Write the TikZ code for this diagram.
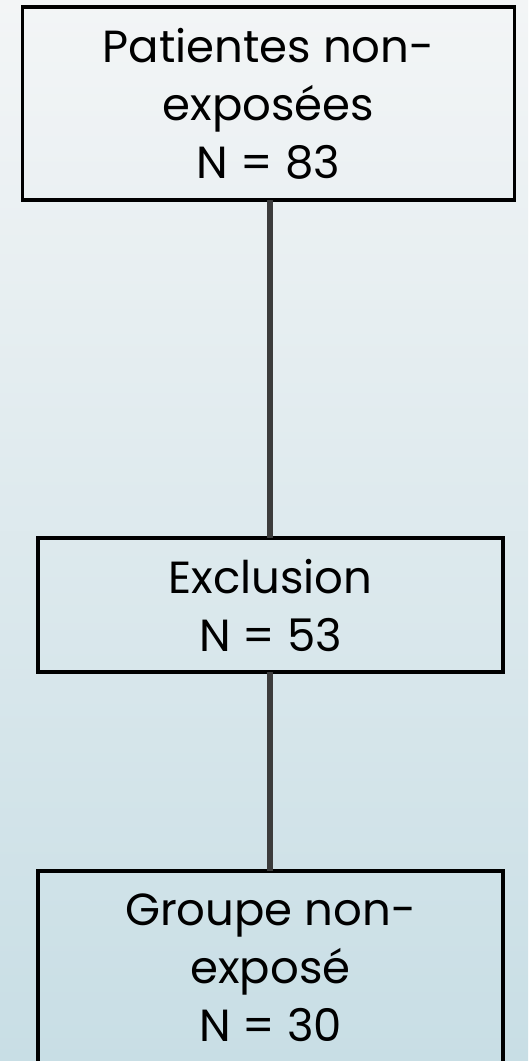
\documentclass[tikz,border=0pt]{standalone}
\usepackage{fontspec}
\setmainfont{Poppins}
\definecolor{bgtop}{HTML}{F3F5F6}
\definecolor{bgbot}{HTML}{C8DEE5}
\definecolor{linkc}{HTML}{3C3C3C}
\tikzset{
  flowbox/.style={draw=black, line width=3.6pt, rectangle, outer sep=0pt, inner sep=0pt,
    align=center, font=\fontsize{45}{58}\selectfont, text=black},
  link/.style={draw=linkc, line width=6pt}
}
\begin{document}
\begin{tikzpicture}[x=1pt,y=1pt]
\useasboundingbox (0,0) rectangle (528,-1061);
\shade[top color=bgtop, bottom color=bgbot] (0,0) rectangle (528,-1061);
\node[flowbox, minimum width=492pt, minimum height=193pt] (top) at (268.5,-103.5)
  {Patientes non-\\exposées\\N = 83};
\node[flowbox, minimum width=465pt, minimum height=134pt] (excl) at (270.5,-605)
  {Exclusion\\N = 53};
\node[flowbox, minimum width=465pt, minimum height=194pt] (grp) at (270.5,-968)
  {Groupe non-\\exposé\\N = 30};
\draw[link] (top.south -| 270,0) -- (excl.north -| 270,0);
\draw[link] (excl.south -| 270,0) -- (grp.north -| 270,0);
\end{tikzpicture}
\end{document}
